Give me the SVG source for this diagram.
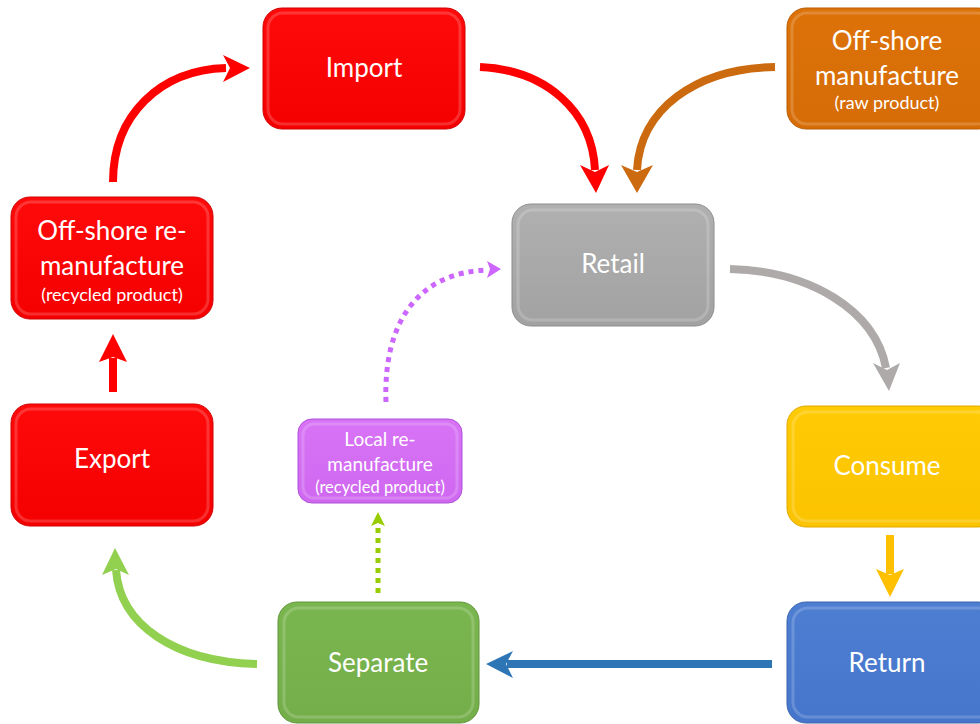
<svg xmlns="http://www.w3.org/2000/svg" width="980" height="724" viewBox="0 0 980 724">
<defs>
<style>
.box{stroke-width:1}
.bev{fill:none;stroke:#fff;stroke-opacity:0.18;stroke-width:3}
.t{font-family:Lato,"Open Sans","Liberation Sans",sans-serif;fill:#fff;text-anchor:middle}
.big{font-size:26px}
.sm{font-size:18px}
.loc{font-size:19px}
.locs{font-size:16.5px}
.c{fill:none;stroke-width:8}
</style>
<linearGradient id="gRed" x1="0" y1="0" x2="0" y2="1"><stop offset="0" stop-color="#ff0a0a"/><stop offset="1" stop-color="#f50000"/></linearGradient>
<linearGradient id="gOr" x1="0" y1="0" x2="0" y2="1"><stop offset="0" stop-color="#dc7208"/><stop offset="1" stop-color="#d66c06"/></linearGradient>
<linearGradient id="gGr" x1="0" y1="0" x2="0" y2="1"><stop offset="0" stop-color="#b0b0b0"/><stop offset="1" stop-color="#a2a2a2"/></linearGradient>
<linearGradient id="gY" x1="0" y1="0" x2="0" y2="1"><stop offset="0" stop-color="#ffcb05"/><stop offset="1" stop-color="#fbc300"/></linearGradient>
<linearGradient id="gB" x1="0" y1="0" x2="0" y2="1"><stop offset="0" stop-color="#4d7ed2"/><stop offset="1" stop-color="#4676cb"/></linearGradient>
<linearGradient id="gG" x1="0" y1="0" x2="0" y2="1"><stop offset="0" stop-color="#7ab650"/><stop offset="1" stop-color="#74ae4a"/></linearGradient>
<linearGradient id="gP" x1="0" y1="0" x2="0" y2="1"><stop offset="0" stop-color="#d873f6"/><stop offset="1" stop-color="#cf68f0"/></linearGradient>
</defs>

<g id="connectors">
  <!-- Off-shore re-manufacture -> Import -->
  <path class="c" stroke="#ff0000" d="M113,182 C113,115 160,70 226,68"/>
  <polygon fill="#ff0000" points="250,68 223,55 230,68 223,82"/>
  <!-- Import -> Retail -->
  <path class="c" stroke="#ff0000" d="M480,67 C545,70 592,110 595,170"/>
  <polygon fill="#ff0000" points="596,193 580,165 595,172 609,165"/>
  <!-- Off-shore manufacture -> Retail -->
  <path class="c" stroke="#cc6a10" d="M775,67 C695,68 640,110 637,170"/>
  <polygon fill="#cc6a10" points="637,193 621,165 637,172 653,165"/>
  <!-- Retail -> Consume -->
  <path class="c" stroke="#aeaaaa" d="M730,269 C810,271 875,310 886,368"/>
  <polygon fill="#aeaaaa" points="889,391 873,363 887,370 900,363"/>
  <!-- Consume -> Return -->
  <path class="c" stroke="#ffc000" d="M890,535 V574"/>
  <polygon fill="#ffc000" points="890,597 876,569 890,575 904,569"/>
  <!-- Return -> Separate -->
  <path class="c" stroke="#2e75b6" d="M772,664 H507"/>
  <polygon fill="#2e75b6" points="486,664 513,651 506,664 513,678"/>
  <!-- Separate -> Export -->
  <path class="c" stroke="#92d050" d="M257,664 C175,662 120,625 116,570"/>
  <polygon fill="#92d050" points="115,548 102,575 116,569 129,575"/>
  <!-- Export -> Off-shore re-manufacture -->
  <path class="c" stroke="#ff0000" d="M113,392 V358"/>
  <polygon fill="#ff0000" points="113,334 99,362 113,357 127,362"/>
  <!-- Separate -> Local re-manufacture (dotted) -->
  <path fill="none" stroke="#99cc00" stroke-width="5" stroke-dasharray="5 5" d="M378,593 V524"/>
  <polygon fill="#99cc00" points="378,512 371,526 378,523 385,526"/>
  <!-- Local re-manufacture -> Retail (dotted) -->
  <path fill="none" stroke="#cc66ff" stroke-width="5" stroke-dasharray="5 5" d="M386,402 C383,320 420,272 488,270"/>
  <polygon fill="#cc66ff" points="501,269 487,261 490,269 487,278"/>
</g>

<g id="node-import">
  <rect class="box" x="263" y="8" width="202" height="121" rx="19" fill="url(#gRed)" stroke="#d00000"/>
  <rect class="bev" x="268" y="13" width="192" height="111" rx="15"/>
  <text class="t big" x="364" y="77">Import</text>
</g>

<g id="node-offshore-manufacture">
  <rect class="box" x="787" y="8" width="210" height="121" rx="19" fill="url(#gOr)" stroke="#b85d05"/>
  <rect class="bev" x="792" y="13" width="200" height="111" rx="15"/>
  <text class="t big" x="887" y="50">Off-shore</text>
  <text class="t big" x="887" y="85">manufacture</text>
  <text class="t sm" x="887" y="109">(raw product)</text>
</g>

<g id="node-retail">
  <rect class="box" x="512" y="204" width="202" height="122" rx="19" fill="url(#gGr)" stroke="#8c8c8c"/>
  <rect class="bev" x="518" y="210" width="190" height="110" rx="15" stroke-opacity="0.4"/>
  <text class="t big" x="613" y="273">Retail</text>
</g>

<g id="node-offshore-remanufacture">
  <rect class="box" x="11" y="197" width="202" height="122" rx="19" fill="url(#gRed)" stroke="#d00000"/>
  <rect class="bev" x="16" y="202" width="192" height="112" rx="15"/>
  <text class="t big" x="112" y="240">Off-shore re-</text>
  <text class="t big" x="112" y="275">manufacture</text>
  <text class="t sm" x="112" y="301">(recycled product)</text>
</g>

<g id="node-export">
  <rect class="box" x="11" y="404" width="202" height="122" rx="19" fill="url(#gRed)" stroke="#d00000"/>
  <rect class="bev" x="16" y="409" width="192" height="112" rx="15"/>
  <text class="t big" x="112" y="468">Export</text>
</g>

<g id="node-local-remanufacture">
  <rect class="box" x="298" y="419" width="164" height="84" rx="14" fill="url(#gP)" stroke="#b050d8"/>
  <rect class="bev" x="303" y="424" width="154" height="74" rx="11" stroke-opacity="0.3"/>
  <text class="t loc" x="380" y="446">Local re-</text>
  <text class="t loc" x="380" y="471">manufacture</text>
  <text class="t locs" x="380" y="493">(recycled product)</text>
</g>

<g id="node-consume">
  <rect class="box" x="787" y="406" width="210" height="121" rx="19" fill="url(#gY)" stroke="#e0a800"/>
  <rect class="bev" x="793" y="412" width="200" height="109" rx="15" stroke-opacity="0.35"/>
  <text class="t big" x="887" y="475">Consume</text>
</g>

<g id="node-return">
  <rect class="box" x="787" y="602" width="210" height="121" rx="19" fill="url(#gB)" stroke="#3a64ad"/>
  <rect class="bev" x="793" y="608" width="200" height="109" rx="15" stroke-opacity="0.3"/>
  <text class="t big" x="887" y="672">Return</text>
</g>

<g id="node-separate">
  <rect class="box" x="278" y="602" width="201" height="121" rx="19" fill="url(#gG)" stroke="#5f963a"/>
  <rect class="bev" x="284" y="608" width="189" height="109" rx="15" stroke-opacity="0.3"/>
  <text class="t big" x="378" y="672">Separate</text>
</g>
</svg>
